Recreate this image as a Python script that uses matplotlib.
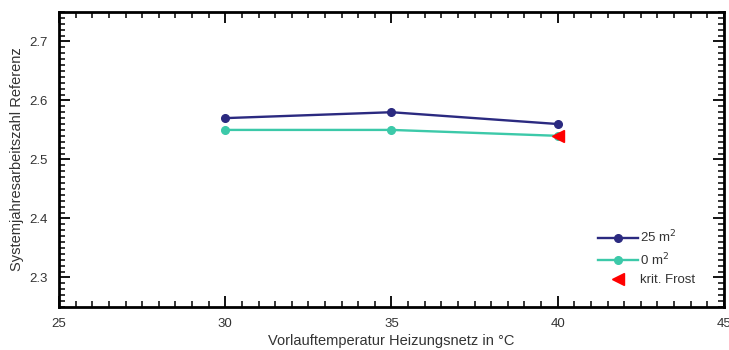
import numpy as np
import matplotlib.pyplot as plt
from matplotlib.ticker import MultipleLocator

# Werte: Vorlauftemperatur vs. Systemjahresarbeitszahl
vorlauf = [30, 35, 40]
jaz_25m2 = [2.57, 2.58, 2.56]
jaz_0m2 = [2.55, 2.55, 2.54]
frost_x = [40]
frost_y = [2.54]

plt.rcParams["font.family"] = ["Liberation Sans", "DejaVu Sans"]

fig = plt.figure(figsize=(7.29, 3.5), dpi=100)
ax = fig.add_axes([0.081, 0.123, 0.912, 0.843])

ax.plot(vorlauf, jaz_25m2, color="#2b2a80", lw=1.7, marker="o", ms=5.5,
        label="25 m$^2$")
ax.plot(vorlauf, jaz_0m2, color="#3cc9a9", lw=1.7, marker="o", ms=5.5,
        label="0 m$^2$")
ax.plot(frost_x, frost_y, ls="none", marker="<", ms=9, color="#ff0000",
        label="krit. Frost")

ax.set_xlim(25, 45)
ax.set_ylim(2.25, 2.75)
ax.xaxis.set_major_locator(MultipleLocator(5))
ax.xaxis.set_minor_locator(MultipleLocator(0.5))
ax.yaxis.set_major_locator(MultipleLocator(0.1))
ax.yaxis.set_minor_locator(MultipleLocator(0.01))

ax.tick_params(which="both", direction="in", top=True, right=True,
               labelsize=9.5, labelcolor="#333333", color="black")
ax.tick_params(which="major", length=8, width=1.3)
ax.tick_params(which="minor", length=4, width=1.1)
ax.tick_params(axis="x", which="major", pad=8)
ax.tick_params(axis="y", which="major", pad=8)
for s in ax.spines.values():
    s.set_linewidth(2)

ax.set_xlabel("Vorlauftemperatur Heizungsnetz in °C", fontsize=10.5,
              color="#333333", labelpad=3)
ax.set_ylabel("Systemjahresarbeitszahl Referenz", fontsize=10.5,
              color="#333333", labelpad=4)

leg = ax.legend(loc="lower right", bbox_to_anchor=(0.975, 0.03),
                frameon=False, fontsize=9.5, handlelength=3,
                handletextpad=0.2, labelspacing=0.45)
for t in leg.get_texts():
    t.set_color("#333333")

fig.savefig("out.png", dpi=100)
